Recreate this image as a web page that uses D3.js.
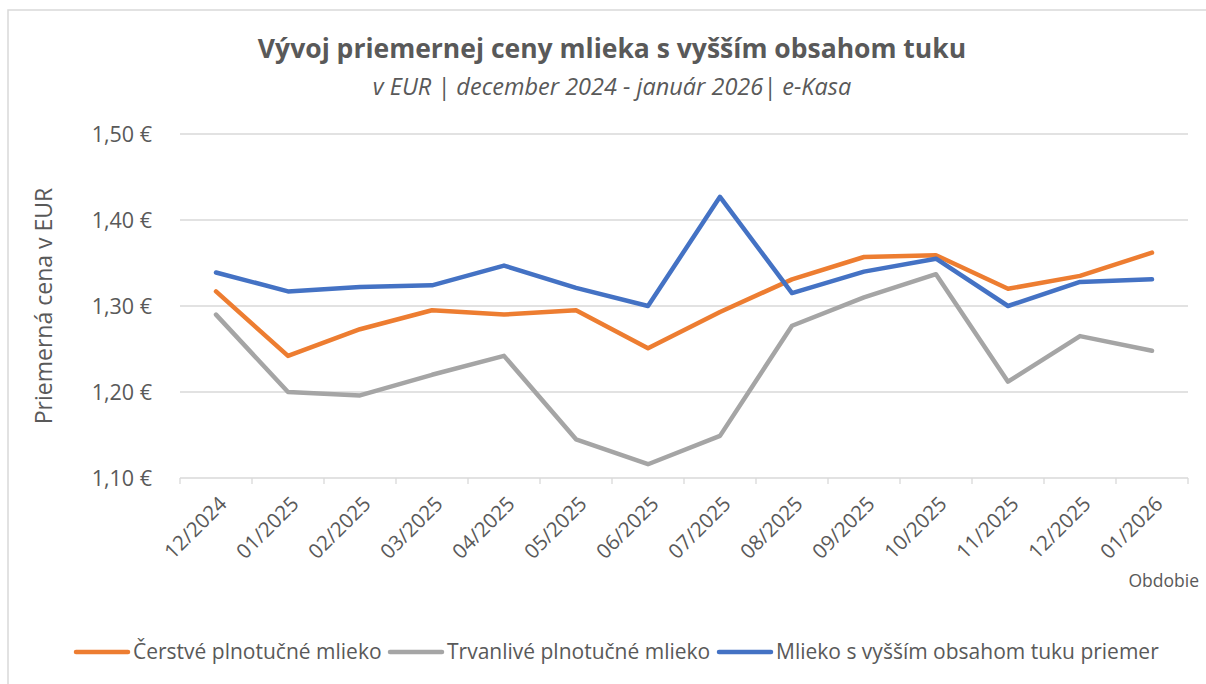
<!DOCTYPE html>
<html>
  <head>
    <meta charset="utf-8">
    <script src="https://cdnjs.cloudflare.com/ajax/libs/d3/7.8.5/d3.min.js"></script>
    <style type="text/css">
    body { margin: 0; background: #fff; }
    svg text { font-family: "Open Sans", "Noto Sans", sans-serif; fill: #595959; }
    .grid line { stroke: #d9d9d9; stroke-width: 1.3; }
    .series { fill: none; stroke-width: 4.5; stroke-linejoin: round; stroke-linecap: round; }
    </style>
  </head>
  <body>
    <script type="text/javascript">
      // data
      var months = ["12/2024", "01/2025", "02/2025", "03/2025", "04/2025", "05/2025", "06/2025",
                    "07/2025", "08/2025", "09/2025", "10/2025", "11/2025", "12/2025", "01/2026"];
      var cerstve = [1.317, 1.242, 1.273, 1.295, 1.290, 1.295, 1.251, 1.293, 1.331, 1.357, 1.359, 1.320, 1.335, 1.362];
      var trvanlive = [1.290, 1.200, 1.196, 1.220, 1.242, 1.145, 1.116, 1.149, 1.277, 1.310, 1.337, 1.212, 1.265, 1.248];
      var priemer = [1.339, 1.317, 1.322, 1.324, 1.347, 1.321, 1.300, 1.427, 1.315, 1.340, 1.355, 1.300, 1.328, 1.331];
      var yTicks = [1.10, 1.20, 1.30, 1.40, 1.50];
      var seriesNames = ["Čerstvé plnotučné mlieko", "Trvanlivé plnotučné mlieko", "Mlieko s vyšším obsahom tuku priemer"];
      var colors = ["#ED7D31", "#A5A5A5", "#4472C4"];

      var w = 1206;
      var h = 684;

      var svg = d3.select("body")
                  .append("svg")
                  .attr("width", w)
                  .attr("height", h);

      // chart frame
      svg.append("rect")
         .attr("x", 8).attr("y", 10)
         .attr("width", 1400).attr("height", 900)
         .attr("fill", "none")
         .attr("stroke", "#d9d9d9")
         .attr("stroke-width", 1.5);

      // titles
      svg.append("text")
         .attr("x", 612).attr("y", 58)
         .attr("text-anchor", "middle")
         .style("font-size", "26.5px")
         .style("font-weight", "bold")
         .text("Vývoj priemernej ceny mlieka s vyšším obsahom tuku");
      svg.append("text")
         .attr("x", 612).attr("y", 95)
         .attr("text-anchor", "middle")
         .style("font-size", "23.5px")
         .style("font-style", "italic")
         .text("v EUR | december 2024 - január 2026| e-Kasa");

      // scales
      var xScale = d3.scaleBand()
                     .domain(months)
                     .range([180, 1188]);
      var yScale = d3.scaleLinear()
                     .domain([1.10, 1.50])
                     .range([478, 134]);

      // gridlines
      svg.append("g")
         .attr("class", "grid")
         .selectAll("line")
         .data(yTicks.slice(1))
         .enter()
         .append("line")
           .attr("x1", 180).attr("x2", 1188)
           .attr("y1", function(d) { return yScale(d); })
           .attr("y2", function(d) { return yScale(d); });

      // y axis labels
      svg.append("g")
         .selectAll("text")
         .data(yTicks)
         .enter()
         .append("text")
           .attr("x", 152)
           .attr("y", function(d) { return yScale(d); })
           .attr("dy", "0.35em")
           .attr("text-anchor", "end")
           .style("font-size", "21.5px")
           .text(function(d) { return d3.format(".2f")(d).replace(".", ",") + " €"; });

      svg.append("text")
         .attr("transform", "translate(44," + ((yScale(1.10) + yScale(1.50)) / 2) + ") rotate(-90)")
         .attr("text-anchor", "middle")
         .attr("dy", "0.35em")
         .style("font-size", "23px")
         .text("Priemerná cena v EUR");

      // x axis
      var xAxisG = svg.append("g").attr("class", "grid");
      xAxisG.append("line")
            .attr("x1", 180).attr("x2", 1188)
            .attr("y1", yScale(1.10)).attr("y2", yScale(1.10));
      xAxisG.selectAll(".tick")
            .data(months.map(function(m) { return xScale(m); }).concat([xScale.range()[1]]))
            .enter()
            .append("line")
              .attr("x1", function(d) { return d; }).attr("x2", function(d) { return d; })
              .attr("y1", yScale(1.10)).attr("y2", yScale(1.10) + 6);

      svg.append("g")
         .selectAll("text")
         .data(months)
         .enter()
         .append("text")
           .attr("transform", function(d) {
             return "translate(" + (xScale(d) + xScale.bandwidth() / 2 + 7) + "," + (yScale(1.10) + 22) + ") rotate(-45)";
           })
           .attr("text-anchor", "end")
           .attr("dy", "0.35em")
           .style("font-size", "20.5px")
           .text(function(d) { return d; });

      svg.append("text")
         .attr("x", 1199).attr("y", 581)
         .attr("text-anchor", "end")
         .attr("dy", "0.35em")
         .style("font-size", "17.5px")
         .text("Obdobie");

      // lines
      var line = d3.line()
                   .x(function(d, i) { return xScale(months[i]) + xScale.bandwidth() / 2; })
                   .y(function(d) { return yScale(d); });

      [cerstve, trvanlive, priemer].forEach(function(s, i) {
        svg.append("path")
           .datum(s)
           .attr("class", "series")
           .attr("stroke", colors[i])
           .attr("d", line);
      });

      // legend
      var legendX = [76, 390, 719];
      seriesNames.forEach(function(name, i) {
        var g = svg.append("g").attr("transform", "translate(" + legendX[i] + ",652)");
        g.append("line")
         .attr("x1", 0).attr("x2", 52)
         .attr("stroke", colors[i])
         .attr("stroke-width", 4.5)
         .attr("stroke-linecap", "round");
        g.append("text")
         .attr("x", 57)
         .attr("dy", "0.35em")
         .style("font-size", "21px")
         .text(name);
      });
    </script>
  </body>
</html>
